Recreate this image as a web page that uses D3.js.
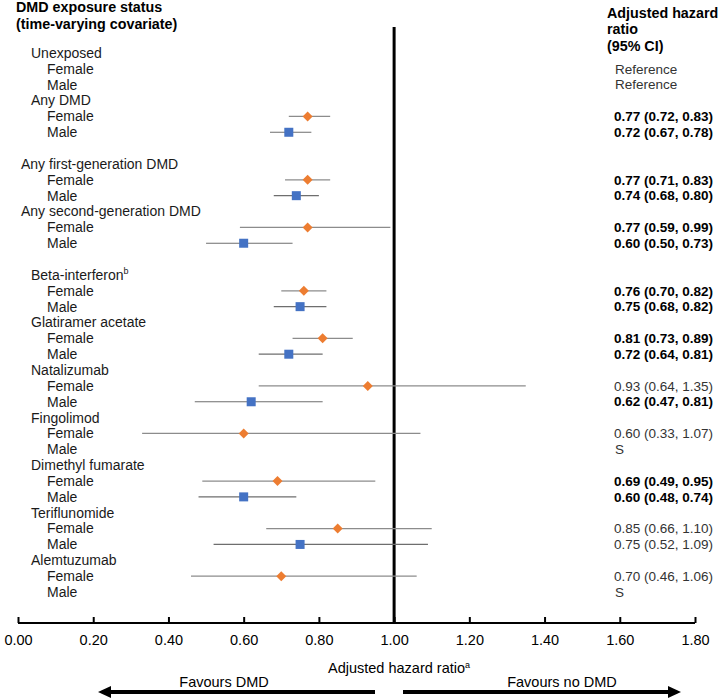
<!DOCTYPE html>
<html>
<head>
<meta charset="utf-8">
<script src="https://cdn.jsdelivr.net/npm/d3@7"></script>
<style>
  html, body { margin: 0; padding: 0; background: #fff; }
  svg { display: block; font-family: "Liberation Sans", Arial, sans-serif; }
</style>
</head>
<body>
<svg id="chart" width="718" height="700"></svg>
<script>
// ---- data ----
const rowLabels = [
  "Unexposed", "Female", "Male",
  "Any DMD", "Female", "Male",
  "",
  "Any first-generation DMD", "Female", "Male",
  "Any second-generation DMD", "Female", "Male",
  "",
  "Beta-interferon", "Female", "Male",
  "Glatiramer acetate", "Female", "Male",
  "Natalizumab", "Female", "Male",
  "Fingolimod", "Female", "Male",
  "Dimethyl fumarate", "Female", "Male",
  "Teriflunomide", "Female", "Male",
  "Alemtuzumab", "Female", "Male"
];
// row type: h = group heading, h2 = heading with small indent, s = sex subrow, b = blank
const rowTypes = [
  "h","s","s","h","s","s","b","h2","s","s","h2","s","s","b",
  "h","s","s","h","s","s","h","s","s","h","s","s","h","s","s","h","s","s","h","s","s"
];
const estimates = [
  null,null,null, null,0.77,0.72, null, null,0.77,0.74, null,0.77,0.60, null,
  null,0.76,0.75, null,0.81,0.72, null,0.93,0.62, null,0.60,null, null,0.69,0.60,
  null,0.85,0.75, null,0.70,null
];
const lowerCI = [
  null,null,null, null,0.72,0.67, null, null,0.71,0.68, null,0.59,0.50, null,
  null,0.70,0.68, null,0.73,0.64, null,0.64,0.47, null,0.33,null, null,0.49,0.48,
  null,0.66,0.52, null,0.46,null
];
const upperCI = [
  null,null,null, null,0.83,0.78, null, null,0.83,0.80, null,0.99,0.73, null,
  null,0.82,0.82, null,0.89,0.81, null,1.35,0.81, null,1.07,null, null,0.95,0.74,
  null,1.10,1.09, null,1.06,null
];
const ciText = [
  "","Reference","Reference", "","0.77 (0.72, 0.83)","0.72 (0.67, 0.78)", "",
  "","0.77 (0.71, 0.83)","0.74 (0.68, 0.80)", "","0.77 (0.59, 0.99)","0.60 (0.50, 0.73)", "",
  "","0.76 (0.70, 0.82)","0.75 (0.68, 0.82)", "","0.81 (0.73, 0.89)","0.72 (0.64, 0.81)",
  "","0.93 (0.64, 1.35)","0.62 (0.47, 0.81)", "","0.60 (0.33, 1.07)","S",
  "","0.69 (0.49, 0.95)","0.60 (0.48, 0.74)", "","0.85 (0.66, 1.10)","0.75 (0.52, 1.09)",
  "","0.70 (0.46, 1.06)","S"
];
const ciBold = [
  0,0,0, 0,1,1, 0, 0,1,1, 0,1,1, 0,
  0,1,1, 0,1,1, 0,0,1, 0,0,0, 0,1,1, 0,0,0, 0,0,0
];
const tickValues = [0, 0.2, 0.4, 0.6, 0.8, 1.0, 1.2, 1.4, 1.6, 1.8];

// ---- layout ----
const svg = d3.select("#chart");
const x = d3.scaleLinear().domain([0, 1.8]).range([18, 695]);
const y = d3.scaleLinear().domain([0, rowLabels.length - 1]).range([53, 592]);
const axisY = 623;
const orange = "#ED7D31", blue = "#4472C4";

// headers
const hdr = svg.append("g").attr("font-weight", "bold").attr("font-size", "14.3px").attr("fill", "#000");
hdr.append("text").attr("x", 16).attr("y", 12).text("DMD exposure status");
hdr.append("text").attr("x", 16).attr("y", 29).text("(time-varying covariate)");
hdr.append("text").attr("x", 607).attr("y", 18).text("Adjusted hazard");
hdr.append("text").attr("x", 607).attr("y", 34).text("ratio");
hdr.append("text").attr("x", 607).attr("y", 51).text("(95% CI)");

// row labels
const indent = { h: 31, h2: 21, s: 47, b: 0 };
const labels = svg.append("g").attr("font-size", "14px").attr("fill", "#1a1a1a");
rowLabels.forEach((lab, i) => {
  if (!lab) return;
  const t = labels.append("text")
    .attr("x", indent[rowTypes[i]])
    .attr("y", y(i))
    .attr("dy", "0.35em")
    .text(lab);
  if (lab === "Beta-interferon") {
    t.append("tspan").attr("font-size", "9px").attr("dy", "-0.6em").text("b");
  }
});

// CI texts
const ct = svg.append("g").attr("font-size", "13.5px");
ciText.forEach((s, i) => {
  if (!s) return;
  ct.append("text")
    .attr("x", s === "Reference" || s === "S" ? 615 : 614)
    .attr("y", y(i))
    .attr("dy", "0.35em")
    .attr("font-weight", ciBold[i] ? "bold" : "normal")
    .attr("fill", ciBold[i] ? "#000" : "#333")
    .text(s);
});

// axis
const axis = d3.axisBottom(x).tickValues(tickValues).tickFormat(d3.format(".2f")).tickSize(0).tickPadding(12);
const ag = svg.append("g").attr("transform", `translate(0,${axisY})`).call(axis);
ag.select(".domain").remove();
ag.selectAll("text").attr("font-size", "14.5px").attr("fill", "#000")
  .attr("font-family", "Liberation Sans, Arial, sans-serif");
ag.append("line").attr("x1", x(0)).attr("x2", x(1.8)).attr("y1", 0).attr("y2", 0)
  .attr("stroke", "#000").attr("stroke-width", 2);
ag.selectAll(".tick").append("line").attr("y1", 0).attr("y2", -6)
  .attr("stroke", "#000").attr("stroke-width", 2);

// reference line
svg.append("line").attr("x1", x(1)).attr("x2", x(1)).attr("y1", 27).attr("y2", axisY)
  .attr("stroke", "#000").attr("stroke-width", 3);

// CI lines and markers
const marks = svg.append("g");
estimates.forEach((e, i) => {
  if (e == null) return;
  const female = rowLabels[i] === "Female";
  marks.append("line")
    .attr("x1", x(lowerCI[i])).attr("x2", x(upperCI[i]))
    .attr("y1", y(i)).attr("y2", y(i))
    .attr("stroke", female ? "#8c8c8c" : "#6e6e6e").attr("stroke-width", 1.2);
});
estimates.forEach((e, i) => {
  if (e == null) return;
  const female = rowLabels[i] === "Female";
  const cx = x(e), cy = y(i);
  if (female) {
    marks.append("path")
      .attr("d", `M${cx},${cy - 5}L${cx + 5},${cy}L${cx},${cy + 5}L${cx - 5},${cy}Z`)
      .attr("fill", orange);
  } else {
    marks.append("rect").attr("x", cx - 4.5).attr("y", cy - 4.5).attr("width", 9).attr("height", 9)
      .attr("fill", blue);
  }
});

// axis title
const at = svg.append("text").attr("x", 328).attr("y", 668).attr("dy", "0.35em")
  .attr("font-size", "14.5px").attr("fill", "#000").text("Adjusted hazard ratio");
at.append("tspan").attr("font-size", "9px").attr("dy", "-0.6em").text("a");

// favours labels and arrows
svg.append("text").attr("x", 224).attr("y", 682).attr("dy", "0.35em").attr("text-anchor", "middle")
  .attr("font-size", "14.5px").attr("fill", "#000").text("Favours DMD");
svg.append("text").attr("x", 562).attr("y", 682).attr("dy", "0.35em").attr("text-anchor", "middle")
  .attr("font-size", "14.5px").attr("fill", "#000").text("Favours no DMD");

const ay = 692;
svg.append("line").attr("x1", 375).attr("x2", 108).attr("y1", ay).attr("y2", ay)
  .attr("stroke", "#000").attr("stroke-width", 4);
svg.append("path").attr("d", `M98,${ay}L111,${ay - 6}L111,${ay + 6}Z`).attr("fill", "#000");
svg.append("line").attr("x1", 403).attr("x2", 670).attr("y1", ay).attr("y2", ay)
  .attr("stroke", "#000").attr("stroke-width", 4);
svg.append("path").attr("d", `M681,${ay}L668,${ay - 6}L668,${ay + 6}Z`).attr("fill", "#000");
</script>
</body>
</html>
